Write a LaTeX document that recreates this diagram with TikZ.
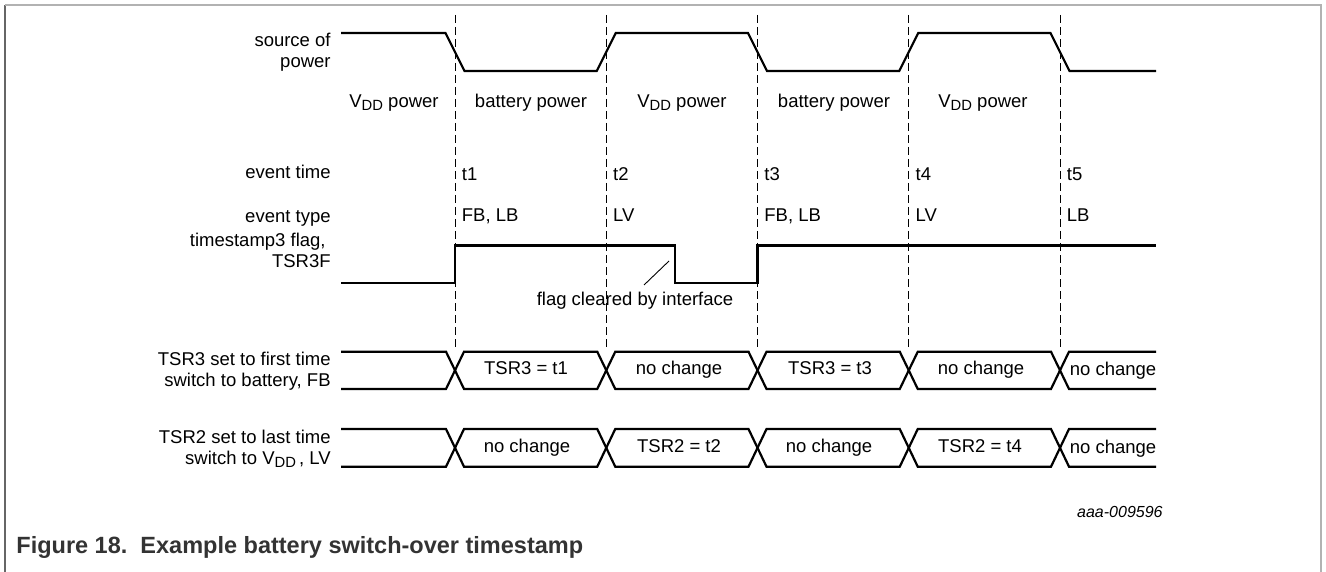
\documentclass[tikz,border=0pt]{standalone}
\usepackage{fontspec}
\setmainfont{Liberation Sans}
\usetikzlibrary{calc,positioning}

\newcommand\vdd{V\raisebox{-0.32ex}{\fontsize{7.4}{8}\selectfont DD}}

\tikzset{
  sig/.style={line width=1.1pt},
  guide/.style={line width=0.5pt,dash pattern=on 4pt off 2pt},
  note/.style={line width=0.45pt},
  lbl/.style={inner sep=0pt,anchor=east,align=right,font=\fontsize{9.25}{10.5}\selectfont},
  txt/.style={inner sep=0pt,text height=6.7pt,text depth=1.9pt,font=\fontsize{9.25}{10.5}\selectfont},
}

\begin{document}
\begin{tikzpicture}[x=0.5pt,y=-0.5pt]
\useasboundingbox (0,0) rectangle (1326,572);

% Frame
\draw[black!60,line width=0.6pt] (5,5) -- (5,572);
\draw[black!30,line width=0.6pt] (5,5) -- (1321,5) -- (1321,572);

% Event times
\foreach \n/\x in {1/455,2/606.25,3/757.5,4/908.75,5/1060}
  \coordinate (t\n) at (\x,0);
\foreach \n in {1,...,5}
  \draw[guide] ($(t\n)+(0,15)$) -- ($(t\n)+(0,350)$);

% Row labels
\node[lbl] (src-lbl) at (331,52) {source of\\power};
\node[lbl] (evtime-lbl) at (331,172) {event time};
\node[lbl] (evtype-lbl) at (331,218) {event type};
\node[lbl] (flag-lbl) at (331,250.5) {timestamp3 flag,\kern2.5pt\\TSR3F};
\node[lbl] (tsr3-lbl) at (331,371) {TSR3 set to first time\\switch to battery, FB};
\node[lbl] (tsr2-lbl) at (331,449) {TSR2 set to last time\\switch to \vdd\,, LV};

% The source of power
\draw[sig] (341,33) -- ($(t1)+(-9.5,33)$) -- ($(t1)+(9.5,71)$) -- ($(t2)+(-9.5,71)$) -- ($(t2)+(9.5,33)$)
  -- ($(t3)+(-9.5,33)$) -- ($(t3)+(9.5,71)$) -- ($(t4)+(-9.5,71)$) -- ($(t4)+(9.5,33)$)
  -- ($(t5)+(-9.5,33)$) -- ($(t5)+(9.5,71)$) -- (1156,71);
\node[txt] (pw0) at (394,103) {\vdd\ power};
\node[txt] (pw1) at (531,103) {battery power};
\node[txt] (pw2) at (682,103) {\vdd\ power};
\node[txt] (pw3) at (834,103) {battery power};
\node[txt] (pw4) at (983,103) {\vdd\ power};

% Event time and type labels
\foreach \n in {1,...,5}
  \node[txt,anchor=west] (tlbl\n) at ($(t\n)+(6.5,176)$) {t\n};
\foreach \n/\e in {1/{FB, LB},2/LV,3/{FB, LB},4/LV,5/LB}
  \node[txt,anchor=west] (type\n) at ($(t\n)+(6.5,217)$) {\e};

% The timestamp3 flag
\draw[sig] (341,283) -- ($(t1)+(0,283)$) -- ($(t1)+(0,245.5)$) -- (675,245.5) -- (675,283)
  -- ($(t3)+(0,283)$) -- ($(t3)+(0,245.5)$) -- (1156,245.5);
\node[txt] (clr) at (635,301) {flag cleared by interface};
\coordinate (clr-foot) at (644,285);
\coordinate (clr-tip) at (669,261);
\draw[note] (clr-foot) -- (clr-tip);

% The TSR3 and TSR2 buses
\foreach \ya/\yb in {351.7/389,389/351.7,429/466.7,466.7/429}
  \draw[sig] (341,\ya) -- ($(t1)+(-9,\ya)$) -- ($(t1)+(9,\yb)$) -- ($(t2)+(-9,\yb)$) -- ($(t2)+(9,\ya)$)
    -- ($(t3)+(-9,\ya)$) -- ($(t3)+(9,\yb)$) -- ($(t4)+(-9,\yb)$) -- ($(t4)+(9,\ya)$)
    -- ($(t5)+(-9,\ya)$) -- ($(t5)+(9,\yb)$) -- (1156,\yb);
\node[txt] (tsr3-a) at (526,370) {TSR3 = t1};
\node[txt] (tsr3-b) at (679,370) {no change};
\node[txt] (tsr3-c) at (830,370) {TSR3 = t3};
\node[txt] (tsr3-d) at (981,370) {no change};
\node[txt] (tsr3-e) at (1113,371) {no change};
\node[txt] (tsr2-a) at (527,447.5) {no change};
\node[txt] (tsr2-b) at (679,447.5) {TSR2 = t2};
\node[txt] (tsr2-c) at (829,447.5) {no change};
\node[txt] (tsr2-d) at (980,447.5) {TSR2 = t4};
\node[txt] (tsr2-e) at (1113,448.5) {no change};

% Figure id and caption
\node[inner sep=0pt,anchor=east,font=\fontsize{8}{9.6}\selectfont\itshape] (fig-id) at (1163,512) {aaa-009596};
\node[inner sep=0pt,anchor=west,text=black!80,font=\fontsize{11.75}{14}\selectfont\bfseries] (caption) at (16,547) {Figure 18.\ \ Example battery switch-over timestamp};

\end{tikzpicture}
\end{document}
